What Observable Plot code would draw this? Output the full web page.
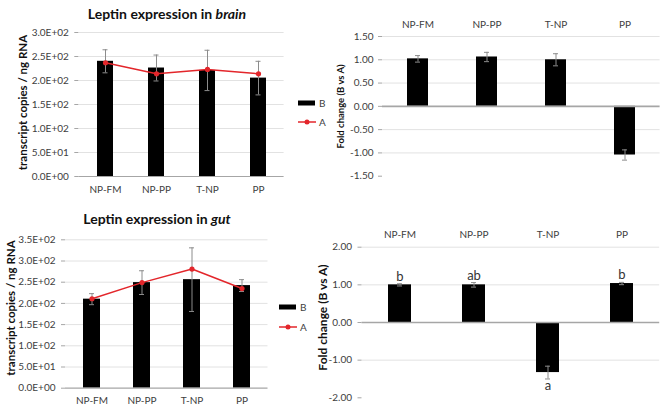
<!DOCTYPE html>
<html><head><meta charset="utf-8">
<script src="https://cdn.jsdelivr.net/npm/d3@7"></script>
<script src="https://cdn.jsdelivr.net/npm/@observablehq/plot@0.6"></script>
<style>
body{margin:0;background:#fff;}
#root{position:relative;width:666px;height:410px;overflow:hidden;font-family:Lato,"Open Sans",sans-serif;background:#fff;}
.panel{position:absolute;}
.title{position:absolute;font-weight:bold;font-size:14px;color:#111;white-space:nowrap;transform:translate(-50%,-50%);}
.leg{position:absolute;font-size:10px;color:#404040;display:flex;align-items:center;gap:3px;transform:translateY(-50%);}
</style></head><body><div id="root"></div>
<script>
const categories = ["NP-FM","NP-PP","T-NP","PP"];
const seriesNames = ["B","A"];
// Brain: transcript copies / ng RNA
const brainB = [240, 226, 221, 205];
const brainBErr = [24, 27, 42, 35];
const brainA = [237, 214, 223, 214];
// Brain: fold change (B vs A)
const brainFold = [1.02, 1.06, 1.00, -1.045];
const brainFoldErr = [0.07, 0.10, 0.13, 0.11];
// Gut: transcript copies / ng RNA
const gutB = [210, 249, 256, 242];
const gutBErr = [13, 28, 75, 14];
const gutA = [211, 249, 281, 235];
// Gut: fold change (B vs A)
const gutFold = [1.00, 1.00, -1.33, 1.035];
const gutFoldErr = [0.03, 0.06, 0.17, 0.03];
const gutLetters = ["b", "ab", "a", "b"];
// Tick values
const brainTicks = [0, 50, 100, 150, 200, 250, 300];
const gutTicks = [0, 50, 100, 150, 200, 250, 300, 350];
const brainFoldTicks = [-1.5, -1, -0.5, 0, 0.5, 1, 1.5];
const gutFoldTicks = [-2, -1, 0, 1, 2];

const RED = "#e3262b", GRID = "#e2e2e2", AXIS = "#a6a6a6", ERR = "#8c8c8c", TXT = "#404040";
const root = document.getElementById("root");

function sci(d) {
  if (d === 0) return "0.0E+00";
  const e = Math.floor(Math.log10(Math.abs(d)));
  const m = d / Math.pow(10, e);
  return m.toFixed(1) + "E+" + String(e).padStart(2, "0");
}

function place(el, left, top) {
  el.classList.add("panel");
  el.style.left = left + "px"; el.style.top = top + "px";
  root.appendChild(el);
}

function yLabel(o) {
  return Plot.text([o.ylabel], {text: d => d, frameAnchor: "left", textAnchor: "middle", rotate: -90, dx: o.ldx, dy: o.ldy, fontWeight: "bold", fontSize: o.lfs, fill: "#111", lineAnchor: "middle"});
}

function expressionChart(o) {
  const rows = categories.map((c, i) => ({cat: c, b: o.B[i], e: o.err[i], a: o.A[i]}));
  const p = o.pad;
  return Plot.plot({
    width: o.width, height: o.height,
    marginLeft: o.ml, marginRight: o.mr, marginTop: o.mt, marginBottom: o.mb,
    style: {background: "transparent", fontFamily: "Lato, sans-serif", fontSize: "10px"},
    x: {domain: categories, paddingInner: p, paddingOuter: p / 2},
    y: {domain: o.domain},
    marks: [
      Plot.gridY(o.ticks.filter(t => t > 0), {stroke: GRID, strokeOpacity: 1}),
      Plot.barY(rows, {x: "cat", y: "b", fill: "black"}),
      Plot.ruleX(rows, {x: "cat", y1: d => d.b - d.e, y2: d => d.b + d.e, stroke: ERR, strokeWidth: 1}),
      Plot.tickY(rows, {x: "cat", y: d => d.b + d.e, stroke: ERR, insetLeft: o.capInset, insetRight: o.capInset}),
      Plot.tickY(rows, {x: "cat", y: d => d.b - d.e, stroke: ERR, insetLeft: o.capInset, insetRight: o.capInset}),
      Plot.lineY(rows, {x: "cat", y: "a", stroke: RED, strokeWidth: 1.5}),
      Plot.dot(rows, {x: "cat", y: "a", fill: RED, r: 2.6}),
      Plot.ruleY([0], {stroke: AXIS, strokeWidth: 1.2}),
      Plot.axisY({ticks: o.ticks, tickFormat: sci, tickSize: 4, tickPadding: 6, line: true, stroke: AXIS, fill: TXT, label: null, fontSize: 10}),
      Plot.axisX({tickSize: 0, tickPadding: 9, fill: TXT, label: null, fontSize: 10}),
      yLabel(o)
    ]
  });
}

function foldChart(o) {
  const rows = categories.map((c, i) => ({cat: c, v: o.vals[i], e: o.err[i], l: o.letters ? o.letters[i] : ""}));
  const p = o.pad;
  const marks = [
    Plot.gridY(o.ticks.filter(t => t !== 0 && t !== o.domain[0]), {stroke: GRID, strokeOpacity: 1}),
    Plot.barY(rows, {x: "cat", y: "v", fill: "black"}),
    Plot.ruleX(rows, {x: "cat", y1: d => d.v - d.e, y2: d => d.v + d.e, stroke: ERR}),
    Plot.tickY(rows, {x: "cat", y: d => d.v + d.e, stroke: ERR, insetLeft: o.capInset, insetRight: o.capInset}),
    Plot.tickY(rows, {x: "cat", y: d => d.v - d.e, stroke: ERR, insetLeft: o.capInset, insetRight: o.capInset}),
    Plot.ruleY([0], {stroke: AXIS, strokeWidth: 1.6}),
    Plot.axisY({ticks: o.ticks, tickFormat: d => d.toFixed(2), tickSize: 4, tickPadding: o.tp, line: true, stroke: AXIS, fill: TXT, label: null, fontSize: o.tfs}),
    Plot.axisX({anchor: "top", tickSize: 0, tickPadding: 9, fill: TXT, label: null, fontSize: 10}),
    yLabel(o)
  ];
  if (o.letters) {
    marks.push(Plot.text(rows.filter(d => d.v > 0), {x: "cat", y: d => d.v + d.e, text: "l", lineAnchor: "bottom", dy: -3, fontSize: 13, fill: "#333"}));
    marks.push(Plot.text(rows.filter(d => d.v < 0), {x: "cat", y: d => d.v - d.e, text: "l", lineAnchor: "top", dy: 2, fontSize: 13, fill: "#333"}));
  }
  return Plot.plot({
    width: o.width, height: o.height,
    marginLeft: o.ml, marginRight: o.mr, marginTop: o.mt, marginBottom: o.mb,
    style: {background: "transparent", fontFamily: "Lato, sans-serif", fontSize: "10px"},
    x: {domain: categories, paddingInner: p, paddingOuter: p / 2},
    y: {domain: o.domain},
    marks
  });
}

// Panels
place(expressionChart({width: 340, height: 200, ml: 78.3, mr: 56.4, mt: 32, mb: 24, domain: [0, 300], ticks: brainTicks,
  B: brainB, err: brainBErr, A: brainA, pad: 0.69, capInset: 5.5, ylabel: "transcript copies / ng RNA", ldx: -55, ldy: -2, lfs: 11.5}), 0, 0);

place(foldChart({width: 336, height: 200, ml: 52, mr: 6.4, mt: 36, mb: 24.3, domain: [-1.5, 1.5], ticks: brainFoldTicks,
  vals: brainFold, err: brainFoldErr, pad: 0.697, capInset: 8, ylabel: "Fold change (B vs A)", ldx: -42, ldy: 0, lfs: 9.5, tp: 5, tfs: 10}), 330, 0);

place(expressionChart({width: 340, height: 210, ml: 65, mr: 72.5, mt: 39.3, mb: 22.3, domain: [0, 350], ticks: gutTicks,
  B: gutB, err: gutBErr, A: gutA, pad: 0.665, capInset: 6, ylabel: "transcript copies / ng RNA", ldx: -54, ldy: -6, lfs: 11.5}), 0, 200);

place(foldChart({width: 356, height: 210, ml: 51.5, mr: 6.8, mt: 46.7, mb: 12.7, domain: [-2, 2], ticks: gutFoldTicks,
  vals: gutFold, err: gutFoldErr, letters: gutLetters, pad: 0.695, capInset: 9, ylabel: "Fold change (B vs A)", ldx: -39, ldy: -5, lfs: 12, tp: 6, tfs: 10}), 310, 200);

// Titles
function title(html, x, y) {
  const d = document.createElement("div");
  d.className = "title"; d.innerHTML = html;
  d.style.left = x + "px"; d.style.top = y + "px";
  root.appendChild(d);
}
title("Leptin expression in <i>brain</i>", 167, 12.5);
title("Leptin expression in <i>gut</i>", 157, 218);

// Legends
function legend(x, yB, yA) {
  const items = [
    {name: seriesNames[0], y: yB, svg: '<svg width="18" height="8"><rect x="0" y="1.5" width="17" height="5" fill="black"/></svg>'},
    {name: seriesNames[1], y: yA, svg: '<svg width="18" height="8"><line x1="0" x2="18" y1="4" y2="4" stroke="' + RED + '" stroke-width="1.5"/><circle cx="9" cy="4" r="2.5" fill="' + RED + '"/></svg>'}
  ];
  for (const it of items) {
    const d = document.createElement("div");
    d.className = "leg";
    d.innerHTML = it.svg + "<span>" + it.name + "</span>";
    d.style.left = x + "px"; d.style.top = it.y + "px";
    root.appendChild(d);
  }
}
legend(298, 102.5, 121.5);
legend(279, 307, 327);
</script>
</body></html>
